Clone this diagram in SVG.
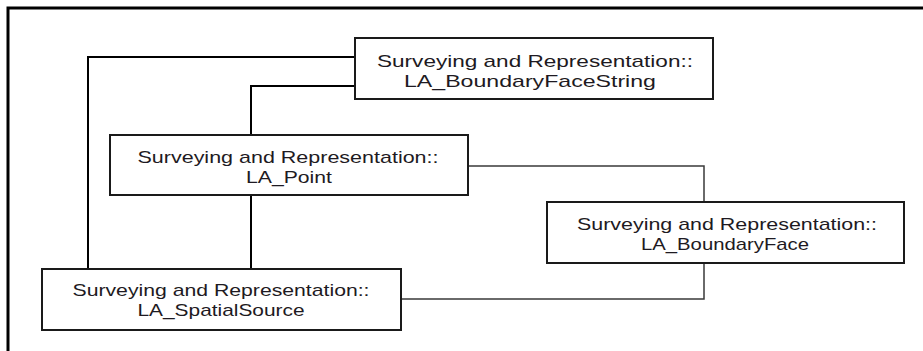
<svg xmlns="http://www.w3.org/2000/svg" width="923" height="351" viewBox="0 0 923 351">
<style>
.frame{fill:none;stroke:#000;stroke-width:3}
.box{fill:#fff;stroke:#1a1a1a;stroke-width:2}
.lbl{font-family:"Liberation Sans",Arial,sans-serif;font-size:17px;fill:#1e1a22;text-anchor:middle}
.c{fill:none;stroke:#000;stroke-width:2}
.c2{fill:none;stroke:#3a3a3a;stroke-width:1.5}
</style>
<rect width="923" height="351" fill="#fff"/>
<path class="frame" d="M8,351 V8 H923"/>
<g id="connectors">
<path class="c" d="M355,57 H88 V269"/>
<path class="c" d="M355,86 H251 V135"/>
<path class="c" d="M251,195 V269"/>
<path class="c2" d="M468,166 H704 V202"/>
<path class="c2" d="M704,263 V299 H401"/>
</g>
<g id="LA_BoundaryFaceString">
<rect class="box" x="355" y="38" width="358" height="61"/>
<text class="lbl" x="535" y="67" textLength="316" lengthAdjust="spacingAndGlyphs">Surveying and Representation::</text>
<text class="lbl" x="530" y="87" textLength="252" lengthAdjust="spacingAndGlyphs">LA_BoundaryFaceString</text>
</g>
<g id="LA_Point">
<rect class="box" x="110" y="135" width="358" height="60"/>
<text class="lbl" x="288" y="163" textLength="301" lengthAdjust="spacingAndGlyphs">Surveying and Representation::</text>
<text class="lbl" x="289" y="183" textLength="86" lengthAdjust="spacingAndGlyphs">LA_Point</text>
</g>
<g id="LA_BoundaryFace">
<rect class="box" x="547" y="202" width="357" height="61"/>
<text class="lbl" x="727" y="230" textLength="300" lengthAdjust="spacingAndGlyphs">Surveying and Representation::</text>
<text class="lbl" x="725" y="250" textLength="168" lengthAdjust="spacingAndGlyphs">LA_BoundaryFace</text>
</g>
<g id="LA_SpatialSource">
<rect class="box" x="42" y="269" width="359" height="61"/>
<text class="lbl" x="221" y="296" textLength="297" lengthAdjust="spacingAndGlyphs">Surveying and Representation::</text>
<text class="lbl" x="221" y="316" textLength="167" lengthAdjust="spacingAndGlyphs">LA_SpatialSource</text>
</g>
</svg>
